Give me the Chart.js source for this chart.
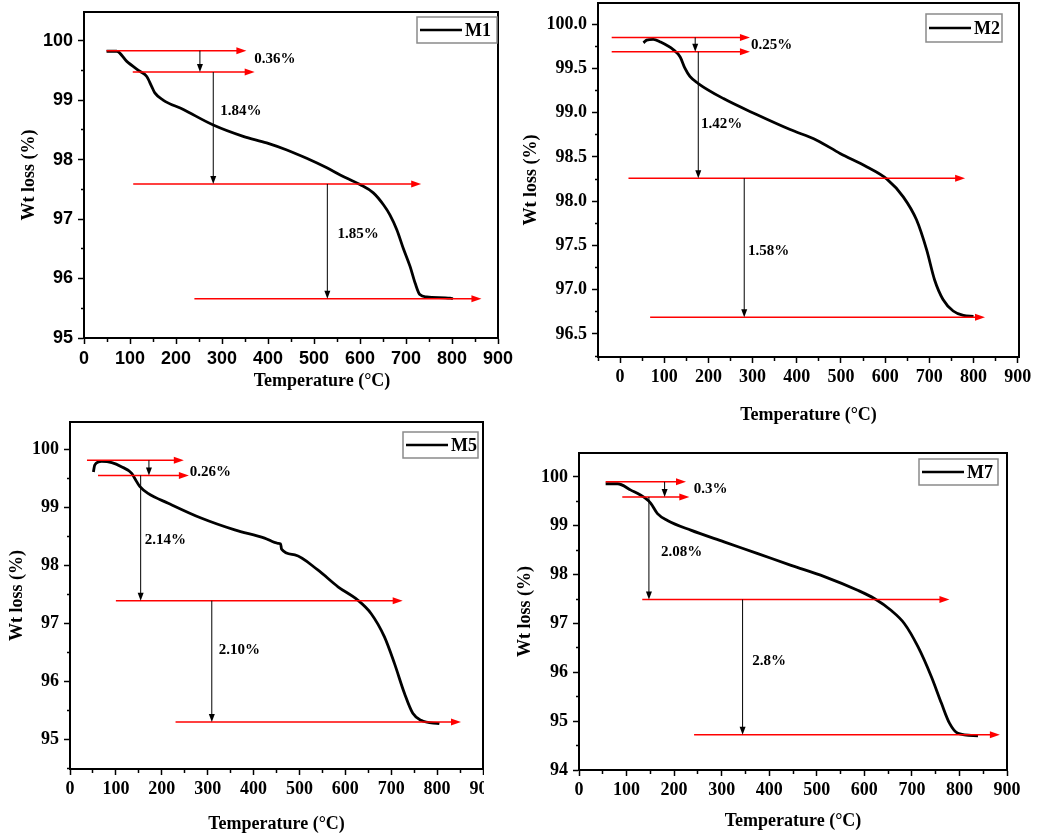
<!DOCTYPE html>
<html><head><meta charset="utf-8">
<script src="https://cdn.jsdelivr.net/npm/chart.js@4.4.1/dist/chart.umd.min.js"></script>
<style>
html,body{margin:0;padding:0;background:#fff;}
body{width:1040px;height:838px;position:relative;overflow:hidden;}
canvas{position:absolute;}
</style></head><body>
<canvas id="c1"></canvas><canvas id="c2"></canvas><canvas id="c5"></canvas><canvas id="c7"></canvas>
<script>
// ---------- data ----------
const xTickLabels = [0,100,200,300,400,500,600,700,800,900];

const m1Temp = [49,71,93,122,136,147,154,172,216,281,346,397,441,484,528,557,600,629,651,665,680,694,709,720,730,745,796,802];
const m1Wt   = [99.82,99.82,99.65,99.48,99.40,99.23,99.12,99.00,98.84,98.58,98.39,98.28,98.16,98.02,97.86,97.74,97.58,97.44,97.24,97.07,96.82,96.51,96.20,95.92,95.73,95.69,95.67,95.66];
const m1YTicks = [95,96,97,98,99,100];
const m1Levels = [99.83,99.47,97.59,95.66];
const m1LevelFrom = [49,106,107,240];
const m1LevelTo = [353,371,733,864];
const m1DropX = [252,281,529];
const m1LossText = ['0.36%','1.84%','1.85%'];
const m1LossX = [415,341,596];
const m1LossY = [99.68,98.81,96.74];

const m2Temp = [53,60,75,91,121,136,147,158,177,234,309,385,445,498,558,604,641,671,694,712,731,754,777,800];
const m2Wt   = [99.79,99.82,99.83,99.80,99.71,99.63,99.50,99.41,99.33,99.16,98.98,98.81,98.69,98.54,98.39,98.25,98.05,97.79,97.45,97.11,96.89,96.76,96.71,96.70];
const m2YTicks = [96.5,97.0,97.5,98.0,98.5,99.0,99.5,100.0];
const m2Levels = [99.85,99.69,98.26,96.69];
const m2LevelFrom = [-19,-19,19,68];
const m2LevelTo = [294,294,781,826];
const m2DropX = [170,177,281];
const m2LossText = ['0.25%','1.42%','1.58%'];
const m2LossX = [343,230,336];
const m2LossY = [99.76,98.87,97.44];

const m5Temp = [51,54,69,91,112,134,141,152,170,214,287,359,424,453,459,461,490,540,584,627,656,685,707,729,747,765,805];
const m5Wt   = [99.61,99.73,99.79,99.77,99.70,99.59,99.50,99.36,99.24,99.07,98.81,98.61,98.47,98.38,98.37,98.28,98.18,97.92,97.63,97.40,97.17,96.77,96.31,95.79,95.45,95.33,95.27];
const m5YTicks = [95,96,97,98,99,100];
const m5Levels = [99.81,99.55,97.39,95.30];
const m5LevelFrom = [37,61,100,230];
const m5LevelTo = [248,259,725,852];
const m5DropX = [172,154,309];
const m5LossText = ['0.26%','2.14%','2.10%'];
const m5LossX = [306,208,369];
const m5LossY = [99.61,98.44,96.54];

const m7Temp = [56,81,109,140,151,165,186,235,305,376,446,516,586,621,656,684,713,741,762,779,797,839];
const m7Wt   = [99.86,99.86,99.73,99.56,99.46,99.25,99.11,98.91,98.67,98.43,98.19,97.96,97.68,97.51,97.27,97.00,96.52,95.91,95.37,94.96,94.75,94.70];
const m7YTicks = [94,95,96,97,98,99,100];
const m7Levels = [99.90,99.59,97.49,94.72];
const m7LevelFrom = [56,91,133,242];
const m7LevelTo = [225,232,779,885];
const m7DropX = [180,147,344];
const m7LossText = ['0.3%','2.08%','2.8%'];
const m7LossX = [277,216,400];
const m7LossY = [99.76,98.47,96.22];

// ---------- rendering ----------
const SERIF = "'Liberation Serif','Times New Roman',serif";
const SANS = "'Liberation Sans',Arial,sans-serif";
const near = (a,b) => Math.abs(a-b) < 1e-6;

function buildTicks(step){
  return function(scale){
    const out=[];
    const k0 = Math.ceil(scale.min/step - 1e-9), k1 = Math.floor(scale.max/step + 1e-9);
    for(let k=k0;k<=k1;k++) out.push({value:+(k*step).toFixed(6)});
    scale.ticks = out;
  };
}

function makePanel(p){
  const cv = document.getElementById(p.id);
  const [l,t,r,b] = p.area;
  cv.width = p.lw + (r-l) + p.pr;
  cv.height = p.pt + (b-t) + p.bh;
  cv.style.left = (l-p.lw)+'px';
  cv.style.top = (t-p.pt)+'px';

  const annot = {
    id:'annot'+p.id,
    afterDatasetsDraw(chart){
      const {ctx, chartArea:a, scales:{x,y}} = chart;
      ctx.save();
      ctx.strokeStyle='#000'; ctx.lineWidth=2;
      ctx.strokeRect(a.left, a.top, a.right-a.left, a.bottom-a.top);
      ctx.strokeStyle='#ff0000'; ctx.fillStyle='#ff0000'; ctx.lineWidth=1.5;
      p.levels.forEach((lv,i)=>{
        const py=y.getPixelForValue(lv), x0=x.getPixelForValue(p.from[i]), x1=x.getPixelForValue(p.to[i]);
        ctx.beginPath(); ctx.moveTo(x0,py); ctx.lineTo(x1-8,py); ctx.stroke();
        ctx.beginPath(); ctx.moveTo(x1,py); ctx.lineTo(x1-10,py-3.5); ctx.lineTo(x1-10,py+3.5); ctx.closePath(); ctx.fill();
      });
      ctx.strokeStyle='#000'; ctx.fillStyle='#000'; ctx.lineWidth=1;
      p.dropX.forEach((dx,i)=>{
        const px=x.getPixelForValue(dx), y0=y.getPixelForValue(p.levels[i]), y1=y.getPixelForValue(p.levels[i+1]);
        ctx.beginPath(); ctx.moveTo(px,y0); ctx.lineTo(px,y1-6); ctx.stroke();
        ctx.beginPath(); ctx.moveTo(px,y1); ctx.lineTo(px-3,y1-8); ctx.lineTo(px+3,y1-8); ctx.closePath(); ctx.fill();
      });
      ctx.font = 'bold 15px '+SERIF; ctx.textAlign='center'; ctx.textBaseline='middle';
      p.lossText.forEach((s,i)=>{ ctx.fillText(s, x.getPixelForValue(p.lossX[i]), y.getPixelForValue(p.lossY[i])); });
      const L=p.legend; const bx=a.right+L.dr-L.w, by=a.top+L.dt;
      ctx.fillStyle='#fff'; ctx.fillRect(bx,by,L.w,L.h);
      ctx.strokeStyle='#8a8a8a'; ctx.lineWidth=1.5; ctx.strokeRect(bx,by,L.w,L.h);
      ctx.strokeStyle='#000'; ctx.lineWidth=2.5;
      ctx.beginPath(); ctx.moveTo(bx+3,by+L.h/2); ctx.lineTo(bx+45,by+L.h/2); ctx.stroke();
      ctx.fillStyle='#000'; ctx.font='bold 18px '+SERIF; ctx.textAlign='left';
      ctx.fillText(chart.data.datasets[0].label, bx+48, by+L.h/2+1);
      ctx.font='bold 18px '+SERIF; ctx.textAlign='center'; ctx.textBaseline='middle';
      ctx.fillText('Temperature (\u00B0C)', (a.left+a.right)/2 + p.xt[0], a.bottom + p.xt[1]);
      ctx.translate(a.left - p.yt, (a.top+a.bottom)/2);
      ctx.rotate(-Math.PI/2);
      ctx.fillText('Wt loss (%)', 0, 0);
      ctx.restore();
    }
  };

  const tickFont = {family: p.tickFamily, weight:'bold', size: 18};
  new Chart(cv, {
    type:'line',
    data:{datasets:[{label:p.name, data:p.temp.map((v,i)=>({x:v,y:p.wt[i]})),
      borderColor:'#000', borderWidth:2.8, pointRadius:0, fill:false, cubicInterpolationMode:'monotone'}]},
    options:{
      responsive:false, animation:false, devicePixelRatio:1,
      layout:{padding:{left:0, top:p.pt, right:p.pr, bottom:0}},
      plugins:{legend:{display:false}, tooltip:{enabled:false}},
      scales:{
        x:{type:'linear', min:p.xmin, max:p.xmax,
          afterBuildTicks: buildTicks(50),
          afterFit(s){ s.height=p.bh; s.paddingLeft=0; s.paddingRight=0; s.paddingTop=0; s.paddingBottom=0; },
          border:{display:true, color:'#000', width:2},
          grid:{display:true, drawOnChartArea:false, drawTicks:true, tickLength:6, tickColor:'#000', tickWidth:1.5,
            tickBorderDash: c => (c.tick && xTickLabels.some(v=>near(v,c.tick.value))) ? [] : [3,30]},
          ticks:{autoSkip:false, maxRotation:0, padding:4, color:'#000', font:tickFont,
            callback: v => xTickLabels.some(t=>near(t,v)) ? String(v) : ''}
        },
        y:{type:'linear', min:p.ymin, max:p.ymax,
          afterBuildTicks: buildTicks(p.yminor),
          afterFit(s){ s.width=p.lw; s.paddingLeft=0; s.paddingRight=0; s.paddingTop=0; s.paddingBottom=0; },
          border:{display:true, color:'#000', width:2},
          grid:{display:true, drawOnChartArea:false, drawTicks:true, tickLength:6, tickColor:'#000', tickWidth:1.5,
            tickBorderDash: c => (c.tick && p.yTicks.some(v=>near(v,c.tick.value))) ? [] : [0,3,4,30]},
          ticks:{autoSkip:false, padding:5, color:'#000', font:tickFont,
            callback: v => p.yTicks.some(t=>near(t,v)) ? v.toFixed(p.ydec) : ''}
        }
      }
    },
    plugins:[annot]
  });
}

makePanel({id:'c1', name:'M1', area:[84,12,498,338], lw:84, pt:10, pr:22, bh:62,
  xmin:0, xmax:900, ymin:95, ymax:100.48, yminor:0.5, yTicks:m1YTicks, ydec:0, tickFamily:SANS,
  temp:m1Temp, wt:m1Wt, levels:m1Levels, from:m1LevelFrom, to:m1LevelTo, dropX:m1DropX,
  lossText:m1LossText, lossX:m1LossX, lossY:m1LossY,
  legend:{dr:-1, dt:5, w:80, h:26}, xt:[31,43], yt:55});

makePanel({id:'c2', name:'M2', area:[598,3,1019,357], lw:90, pt:3, pr:21, bh:72,
  xmin:-50, xmax:903, ymin:96.24, ymax:100.24, yminor:0.25, yTicks:m2YTicks, ydec:1, tickFamily:SERIF,
  temp:m2Temp, wt:m2Wt, levels:m2Levels, from:m2LevelFrom, to:m2LevelTo, dropX:m2DropX,
  lossText:m2LossText, lossX:m2LossX, lossY:m2LossY,
  legend:{dr:-17, dt:11, w:76, h:28}, xt:[0,58], yt:67});

makePanel({id:'c5', name:'M5', area:[70,422,483,769], lw:70, pt:10, pr:1, bh:68,
  xmin:0, xmax:900, ymin:94.49, ymax:100.47, yminor:0.5, yTicks:m5YTicks, ydec:0, tickFamily:SERIF,
  temp:m5Temp, wt:m5Wt, levels:m5Levels, from:m5LevelFrom, to:m5LevelTo, dropX:m5DropX,
  lossText:m5LossText, lossX:m5LossX, lossY:m5LossY,
  legend:{dr:-5, dt:10, w:75, h:26}, xt:[0,55], yt:53});

makePanel({id:'c7', name:'M7', area:[579,453,1007,770], lw:80, pt:10, pr:25, bh:65,
  xmin:0, xmax:900, ymin:94, ymax:100.49, yminor:0.5, yTicks:m7YTicks, ydec:0, tickFamily:SERIF,
  temp:m7Temp, wt:m7Wt, levels:m7Levels, from:m7LevelFrom, to:m7LevelTo, dropX:m7DropX,
  lossText:m7LossText, lossX:m7LossX, lossY:m7LossY,
  legend:{dr:-9, dt:6, w:79, h:26}, xt:[0,51], yt:54});
</script>
</body></html>
